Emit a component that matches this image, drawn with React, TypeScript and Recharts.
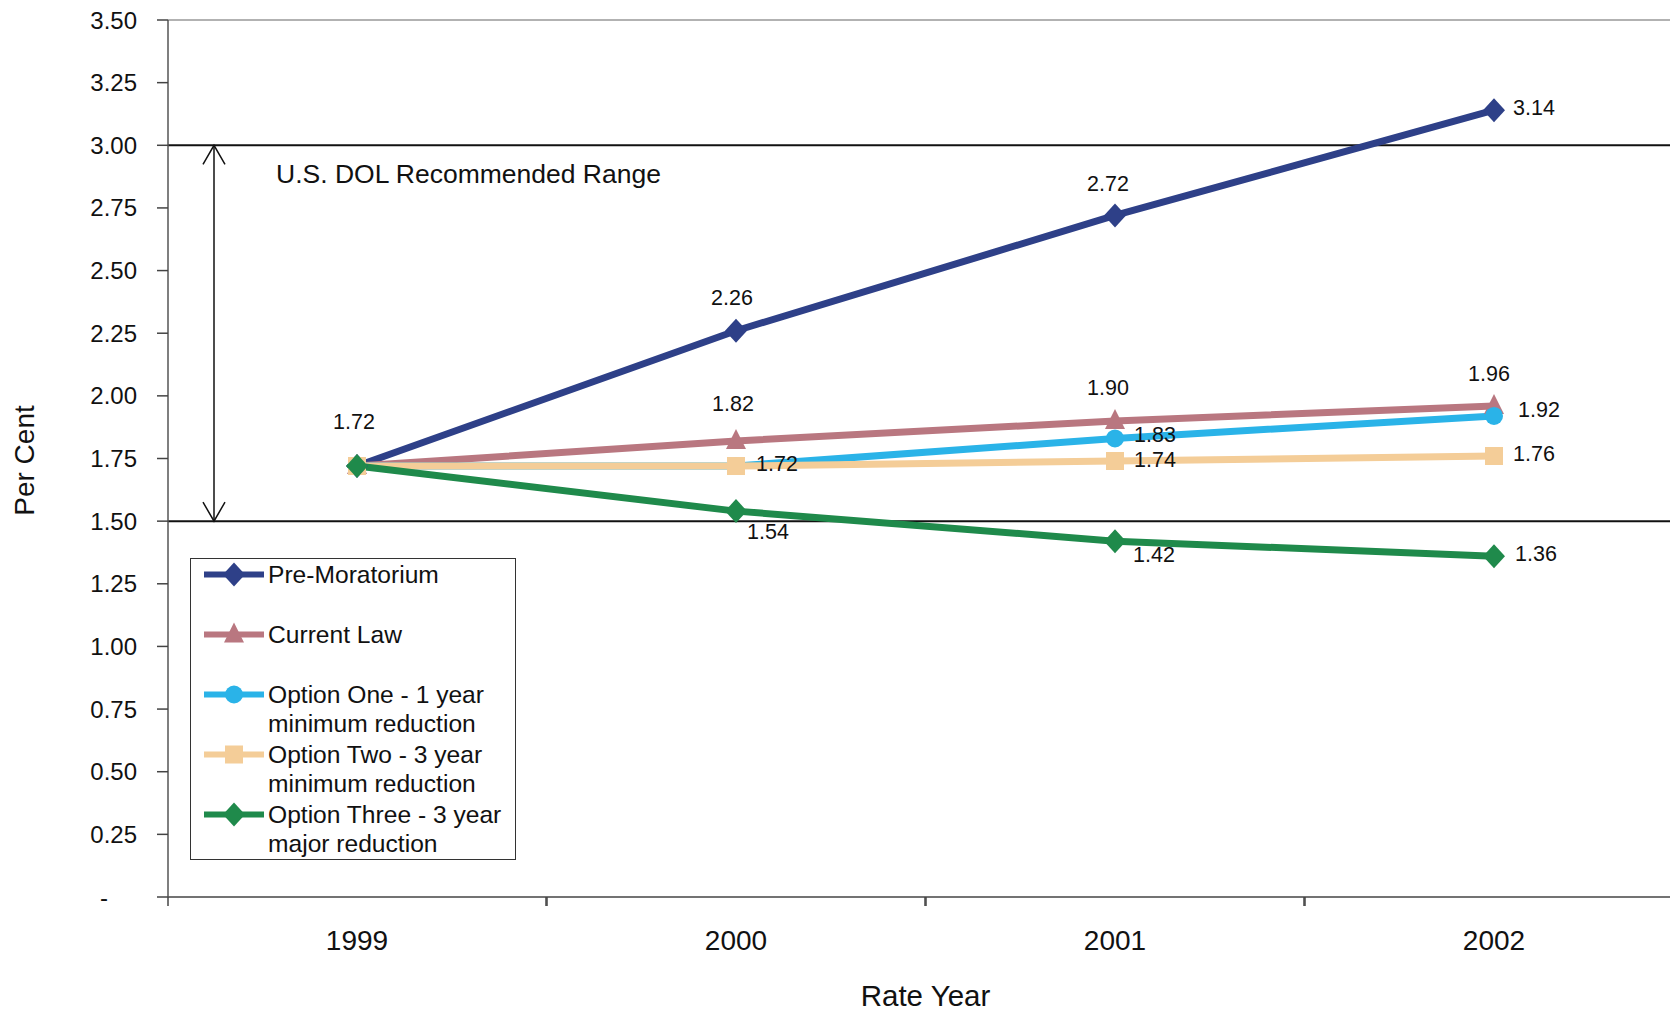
import React from 'react';
import { LineChart, Line, XAxis, YAxis, ReferenceLine, ReferenceArea, Legend, LabelList } from 'recharts';

const FONT = '"Liberation Sans", Arial, sans-serif';

const years = ['1999', '2000', '2001', '2002'];
const preMoratorium = [1.72, 2.26, 2.72, 3.14];
const currentLaw = [1.72, 1.82, 1.9, 1.96];
const optionOne = [1.72, 1.72, 1.83, 1.92];
const optionTwo = [1.72, 1.72, 1.74, 1.76];
const optionThree = [1.72, 1.54, 1.42, 1.36];
const yTicks = [0, 0.25, 0.5, 0.75, 1, 1.25, 1.5, 1.75, 2, 2.25, 2.5, 2.75, 3, 3.25, 3.5];
const rangeLow = 1.5;
const rangeHigh = 3.0;
const rangeText = 'U.S. DOL Recommended Range';

const data = years.map((year, i) => ({
  year,
  pre: preMoratorium[i],
  current: currentLaw[i],
  one: optionOne[i],
  two: optionTwo[i],
  three: optionThree[i],
}));

// where each value label sits relative to its point (null = no label)
type LabelPos = { dx: number; dy: number; anchor: 'start' | 'middle' } | null;

const series: {
  key: string;
  name: string;
  color: string;
  shape: 'diamond' | 'triangle' | 'circle' | 'square';
  labels: LabelPos[];
}[] = [
  {
    key: 'pre', name: 'Pre-Moratorium', color: '#2e4088', shape: 'diamond',
    labels: [null, { dx: -4, dy: -33, anchor: 'middle' }, { dx: -7, dy: -31, anchor: 'middle' }, { dx: 19, dy: -2, anchor: 'start' }],
  },
  {
    key: 'current', name: 'Current Law', color: '#b97780', shape: 'triangle',
    labels: [{ dx: -3, dy: -44, anchor: 'middle' }, { dx: -3, dy: -37, anchor: 'middle' }, { dx: -7, dy: -33, anchor: 'middle' }, { dx: -5, dy: -32, anchor: 'middle' }],
  },
  {
    key: 'one', name: 'Option One - 1 year\nminimum reduction', color: '#2ab3e8', shape: 'circle',
    labels: [null, null, { dx: 19, dy: -3, anchor: 'start' }, { dx: 24, dy: -6, anchor: 'start' }],
  },
  {
    key: 'two', name: 'Option Two - 3 year\nminimum reduction', color: '#f4cd98', shape: 'square',
    labels: [null, { dx: 20, dy: -2, anchor: 'start' }, { dx: 19, dy: -1, anchor: 'start' }, { dx: 19, dy: -2, anchor: 'start' }],
  },
  {
    key: 'three', name: 'Option Three - 3 year\nmajor reduction', color: '#1f8a4b', shape: 'diamond',
    labels: [null, { dx: 11, dy: 21, anchor: 'start' }, { dx: 18, dy: 14, anchor: 'start' }, { dx: 21, dy: -2, anchor: 'start' }],
  },
];

const HALF_BAND = 189;

const Marker = ({ shape, cx, cy, color }: { shape: string; cx: number; cy: number; color: string }) => {
  if (shape === 'diamond') {
    return <polygon points={`${cx},${cy - 12} ${cx + 11},${cy} ${cx},${cy + 12} ${cx - 11},${cy}`} fill={color} />;
  }
  if (shape === 'triangle') {
    return <polygon points={`${cx},${cy - 12} ${cx + 10},${cy + 8} ${cx - 10},${cy + 8}`} fill={color} />;
  }
  if (shape === 'circle') {
    return <circle cx={cx} cy={cy} r={9} fill={color} />;
  }
  return <rect x={cx - 9} y={cy - 9} width={18} height={18} fill={color} />;
};

const YTick = (props: any) => {
  const { x, y, payload } = props;
  const v = payload.value as number;
  if (v === 0) {
    return (
      <text x={x - 33} y={y} textAnchor="middle" dominantBaseline="central" fontSize={24} fontFamily={FONT} fill="#111">
        -
      </text>
    );
  }
  return (
    <text x={x} y={y} textAnchor="end" dominantBaseline="central" fontSize={24} fontFamily={FONT} fill="#111">
      {v.toFixed(2)}
    </text>
  );
};

const XTick = (props: any) => {
  const { x, y, payload } = props;
  return (
    <g>
      <line x1={x - HALF_BAND} x2={x - HALF_BAND} y1={y} y2={y + 9} stroke="#444" strokeWidth={1.5} />
      <line x1={x + HALF_BAND} x2={x + HALF_BAND} y1={y} y2={y + 9} stroke="#444" strokeWidth={1.5} />
      <text x={x} y={y + 43} textAnchor="middle" dominantBaseline="central" fontSize={28} fontFamily={FONT} fill="#111">
        {payload.value}
      </text>
    </g>
  );
};

const RangeShape = (props: any) => {
  const { x, y, height } = props;
  const left = x - HALF_BAND;
  const ax = left + 46;
  const top = y;
  const bot = y + height;
  return (
    <g>
      <line x1={ax} x2={ax} y1={top} y2={bot} stroke="#111" strokeWidth={1.5} />
      <polyline points={`${ax - 11},${top + 19} ${ax},${top} ${ax + 11},${top + 19}`} fill="none" stroke="#111" strokeWidth={1.5} />
      <polyline points={`${ax - 11},${bot - 19} ${ax},${bot} ${ax + 11},${bot - 19}`} fill="none" stroke="#111" strokeWidth={1.5} />
      <text x={left + 108} y={top + 29} dominantBaseline="central" fontSize={26.5} fontFamily={FONT} fill="#111">
        {rangeText}
      </text>
    </g>
  );
};

const LegendBox = () => (
  <div
    style={{
      width: 326,
      height: 302,
      border: '1.5px solid #333',
      boxSizing: 'border-box',
      background: '#fff',
      position: 'relative',
      fontFamily: FONT,
      fontSize: 24.6,
      color: '#111',
    }}
  >
    {series.map((s, i) => (
      <div key={s.key} style={{ position: 'absolute', left: 0, top: 1 + 60 * i, width: '100%' }}>
        <svg width={62} height={29} style={{ position: 'absolute', left: 12, top: 0 }}>
          <line x1={1} x2={61} y1={14.5} y2={14.5} stroke={s.color} strokeWidth={6} />
          <Marker shape={s.shape} cx={31} cy={14.5} color={s.color} />
        </svg>
        <div style={{ position: 'absolute', left: 77, top: 0, lineHeight: '29px', whiteSpace: 'pre' }}>{s.name}</div>
      </div>
    ))}
  </div>
);

export default function App() {
  return (
    <div style={{ margin: '-8px 0 0 -8px', width: 1678, height: 1010, overflow: 'hidden', background: '#fff' }}>
      <LineChart width={1700} height={1010} data={data} margin={{ top: 20, right: 17, bottom: 0, left: 0 }}>
        <XAxis
          dataKey="year"
          padding={{ left: HALF_BAND, right: HALF_BAND }}
          axisLine={{ stroke: '#444', strokeWidth: 1.5 }}
          tickLine={false}
          tickSize={0}
          tickMargin={0}
          tick={<XTick />}
          height={113}
          interval={0}
          label={(p: any) => {
            const vb = p.viewBox;
            return (
              <text x={vb.x + vb.width / 2} y={995} textAnchor="middle" dominantBaseline="central" fontSize={29.5} fontFamily={FONT} fill="#111">
                Rate Year
              </text>
            );
          }}
        />
        <YAxis
          domain={[0, 3.5]}
          ticks={yTicks}
          interval={0}
          width={168}
          axisLine={{ stroke: '#555', strokeWidth: 1.5 }}
          tickLine={{ stroke: '#444', strokeWidth: 1.5 }}
          tickSize={11}
          tickMargin={20}
          tick={<YTick />}
          label={(p: any) => {
            const vb = p.viewBox;
            const cx = vb.x + 24;
            const cy = vb.y + vb.height / 2 + 2;
            return (
              <text
                x={cx}
                y={cy}
                transform={`rotate(-90, ${cx}, ${cy})`}
                textAnchor="middle"
                dominantBaseline="central"
                fontSize={28}
                fontFamily={FONT}
                fill="#111"
              >
                Per Cent
              </text>
            );
          }}
        />
        <ReferenceLine y={3.5} stroke="#999" strokeWidth={1.5} />
        <ReferenceArea y1={rangeLow} y2={rangeHigh} shape={<RangeShape />} />
        <ReferenceLine y={rangeHigh} stroke="#111" strokeWidth={2} />
        <ReferenceLine y={rangeLow} stroke="#111" strokeWidth={2} />
        {series.map((s) => (
          <Line
            key={s.key}
            dataKey={s.key}
            name={s.name}
            stroke={s.color}
            strokeWidth={7}
            isAnimationActive={false}
            dot={(p: any) => <Marker key={`${s.key}-${p.index}`} shape={s.shape} cx={p.cx} cy={p.cy} color={s.color} />}
            activeDot={false}
          >
            <LabelList
              dataKey={s.key}
              content={(p: any) => {
                const pos = s.labels[p.index];
                if (!pos) return null;
                return (
                  <text
                    x={p.x + pos.dx}
                    y={p.y + pos.dy}
                    textAnchor={pos.anchor}
                    dominantBaseline="central"
                    fontSize={21.5}
                    fontFamily={FONT}
                    fill="#111"
                  >
                    {Number(p.value).toFixed(2)}
                  </text>
                );
              }}
            />
          </Line>
        ))}
        <Legend
          layout="vertical"
          align="center"
          verticalAlign="middle"
          content={<LegendBox />}
          wrapperStyle={{ position: 'absolute', left: 190, top: 558, width: 326, height: 302 }}
        />
      </LineChart>
    </div>
  );
}
